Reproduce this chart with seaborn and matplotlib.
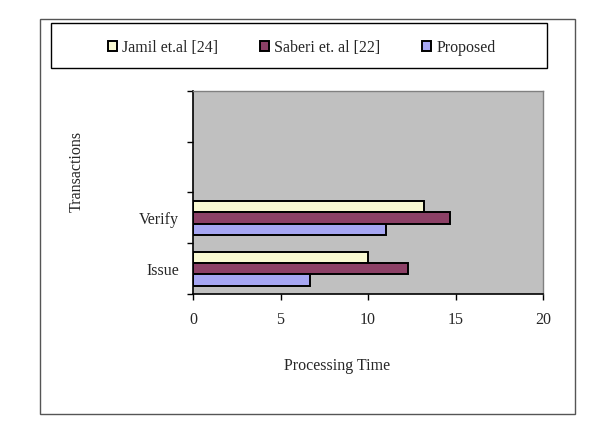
import pandas as pd
import matplotlib.pyplot as plt
from matplotlib.patches import Rectangle
import seaborn as sns

#DATA
transactions = ['Verify', 'Issue']
methods = ['Jamil et.al [24]', 'Saberi et. al [22]', 'Proposed']
jamil = [13.2, 10.0]
saberi = [14.7, 12.3]
proposed = [11.0, 6.7]
colors = ['#FFFFCC', '#993366', '#9999FF']

df = pd.DataFrame({
    'transaction': transactions * 3,
    'method': [m for m in methods for _ in transactions],
    'time': jamil + saberi + proposed,
})

#STYLE
sns.set_theme(style='white')
plt.rcParams['font.family'] = ['Liberation Serif', 'DejaVu Serif']
plt.rcParams['font.size'] = 11.5

fig = plt.figure(figsize=(6.11, 4.32), dpi=100)
ax = fig.add_axes([0.3159, 0.3194, 0.5728, 0.47])

sns.barplot(data=df, y='transaction', x='time', hue='method', orient='h',
            order=transactions, hue_order=methods, palette=colors,
            edgecolor='black', linewidth=1.4, width=0.67, gap=0, ax=ax)

#Axes look
ax.set_facecolor('#C0C0C0')
ax.set_xlim(0, 20)
ax.set_xticks([0, 5, 10, 15, 20])
ax.set_ylim(1.5, -2.5)
ax.set_yticks([-2.5, -1.5, -0.5, 0.5, 1.5], labels=[''] * 5)
ax.set_yticks(range(len(transactions)), labels=transactions, minor=True)
ax.tick_params(axis='y', which='major', direction='out', length=4, width=1, color='black', left=True)
ax.tick_params(axis='y', which='minor', length=0, pad=10, labelsize=11.5)
ax.tick_params(axis='x', direction='out', length=4, width=1, color='black', bottom=True, pad=9, labelsize=11.5)
for s in ['left', 'bottom']:
    ax.spines[s].set_color('black')
    ax.spines[s].set_linewidth(1.2)
for s in ['top', 'right']:
    ax.spines[s].set_color('#808080')
    ax.spines[s].set_linewidth(1)

ax.set_xlabel('Processing Time', fontsize=11.5)
ax.set_ylabel('Transactions', fontsize=11.5)
ax.xaxis.set_label_coords(0.413, -0.315)
ax.yaxis.set_label_coords(-0.309, 0.606)

#Legend at top in a box
handles, labels = ax.get_legend_handles_labels()
ax.get_legend().remove()
fig.legend(handles, labels, loc='center', bbox_to_anchor=(0.4935, 0.89), ncol=3,
           frameon=False, fontsize=11.5, handlelength=0.6, handleheight=0.6,
           handletextpad=0.3, columnspacing=2.6)
fig.patches.append(Rectangle((0.0835, 0.8426), 0.8118, 0.1042, transform=fig.transFigure,
                             fill=False, edgecolor='black', linewidth=1))
fig.patches.append(Rectangle((0.0655, 0.0417), 0.8755, 0.9143, transform=fig.transFigure,
                             fill=False, edgecolor='#555555', linewidth=1))

plt.savefig('out.png', dpi=100)
